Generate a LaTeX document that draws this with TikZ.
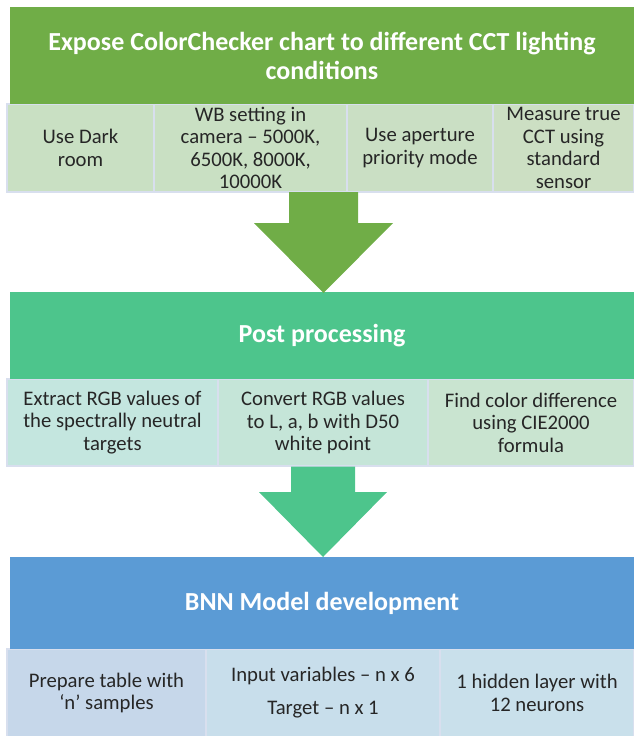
\documentclass[tikz,border=0pt]{standalone}
\usepackage{fontspec}
\setmainfont{Carlito}
\usetikzlibrary{calc}
\definecolor{hgreen}{HTML}{70AD47}
\definecolor{hteal}{HTML}{4DC58C}
\definecolor{hblue}{HTML}{5B9BD5}
\definecolor{sg1}{HTML}{C9E0C3}
\definecolor{sg2}{HTML}{C9E0C3}
\definecolor{sg3}{HTML}{CADFC4}
\definecolor{sg4}{HTML}{CCDFC3}
\definecolor{st1}{HTML}{C4E6DF}
\definecolor{st2}{HTML}{C5E5D8}
\definecolor{st3}{HTML}{C9E4D0}
\definecolor{sb1}{HTML}{C6D7EA}
\definecolor{sb2}{HTML}{C8DEEB}
\definecolor{sb3}{HTML}{C9E0EB}
\definecolor{sborder}{HTML}{D8DFEE}
\definecolor{txt}{HTML}{262626}
\tikzset{
  hdr/.style={rectangle, inner sep=0pt, align=center, text=white,
    font=\bfseries\fontsize{26}{29}\selectfont},
  sub/.style={rectangle, inner sep=0pt, align=center, text=txt, draw=sborder,
    line width=1.5pt, font=\fontsize{20.7}{22.5}\selectfont},
}
\begin{document}
\begin{tikzpicture}[x=1pt,y=-1pt]
\useasboundingbox (0,0) rectangle (633,736);
% ---- row 1
\node[sub, fill=sg1, minimum width=147pt, minimum height=88pt] (s11) at (80.5,148) {Use Dark\\room};
\node[sub, fill=sg2, minimum width=193pt, minimum height=88pt] (s12) at (250.5,148) {WB setting in\\camera – 5000K,\\6500K, 8000K,\\10000K};
\node[sub, fill=sg3, minimum width=146pt, minimum height=88pt] (s13) at (420,148) {Use aperture\\priority mode};
\node[sub, fill=sg4, minimum width=141pt, minimum height=88pt] (s14) at (563.5,148) {Measure true\\CCT using\\standard\\sensor};
% ---- row 2
\node[sub, fill=st1, minimum width=211pt, minimum height=87pt] (s21) at (112.5,422.5) {Extract RGB values of\\the spectrally neutral\\targets};
\node[sub, fill=st2, minimum width=210pt, minimum height=87pt] (s22) at (323,422.5) {Convert RGB values\\to L, a, b with D50\\white point};
\node[sub, fill=st3, minimum width=206pt, minimum height=87pt] (s23) at (531,422.5) {Find color difference\\using CIE2000\\formula};
% ---- row 3
\node[sub, fill=sb1, minimum width=199pt, minimum height=88pt] (s31) at (106.5,693) {Prepare table with\\‘n’ samples};
\node[sub, fill=sb2, minimum width=234pt, minimum height=88pt, font=\fontsize{20.7}{33}\selectfont] (s32) at (323,693) {Input variables – n x 6\\Target – n x 1};
\node[sub, fill=sb3, minimum width=194pt, minimum height=88pt] (s33) at (537,693) {1 hidden layer with\\12 neurons};
% ---- headers
\node[hdr, fill=hgreen, minimum width=624pt, minimum height=97pt] (h1) at (322,55.5) {Expose ColorChecker chart to different CCT lighting\\conditions};
\node[hdr, fill=hteal, minimum width=624pt, minimum height=87pt] (h2) at (322,335.5) {Post processing};
\node[hdr, fill=hblue, minimum width=624pt, minimum height=92pt] (h3) at (322,603) {BNN Model development};
% ---- block arrows
\coordinate (a1s) at (323.5,192);
\coordinate (a1t) at (323.5,293);
\fill[hgreen] ($(a1s)+(-34.5,0)$) -- ($(a1s)+(34.5,0)$) -- ($(a1s)+(34.5,31)$)
  -- ($(a1s)+(69.5,31)$) -- (a1t) -- ($(a1s)+(-69.5,31)$) -- ($(a1s)+(-34.5,31)$) -- cycle;
\coordinate (a2s) at (323,466.5);
\coordinate (a2t) at (323,557);
\fill[hteal] ($(a2s)+(-32,0)$) -- ($(a2s)+(32,0)$) -- ($(a2s)+(32,25.5)$)
  -- ($(a2s)+(64,25.5)$) -- (a2t) -- ($(a2s)+(-64,25.5)$) -- ($(a2s)+(-32,25.5)$) -- cycle;
\end{tikzpicture}
\end{document}
